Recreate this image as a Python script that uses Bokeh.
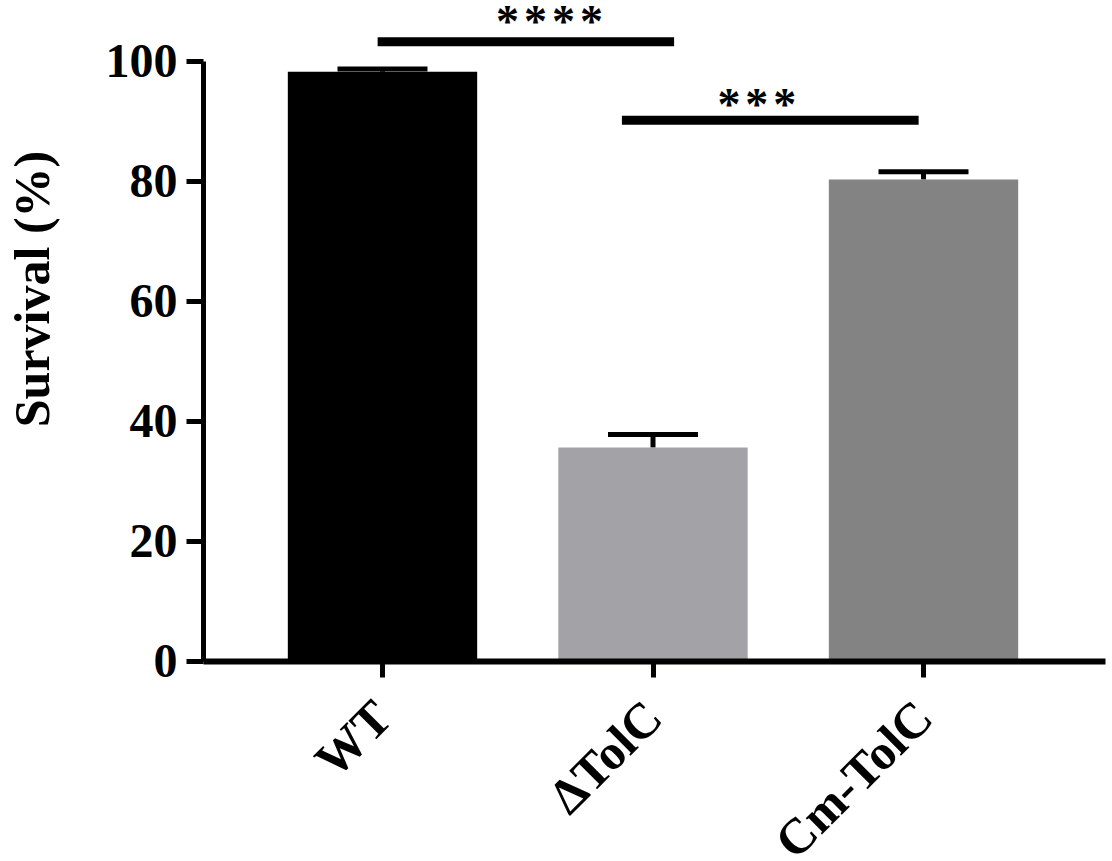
import math
from bokeh.plotting import figure
from bokeh.models import (Range1d, ColumnDataSource, Whisker, TeeHead, FixedTicker, Label)
from bokeh.core.properties import value
from bokeh.embed import file_html
from bokeh.resources import INLINE

# ---- data ----
categories = ["WT", "ΔTolC", "Cm-TolC"]
survival = [98.3, 35.6, 80.3]
sem = [0.45, 2.2, 1.3]
bar_colors = ["#000000", "#a3a2a7", "#838383"]
y_ticks = [0, 20, 40, 60, 80, 100]
y_title = "Survival (%)"

comp_left = ["WT", "ΔTolC"]
comp_right = ["ΔTolC", "Cm-TolC"]
comp_heights = [103.3, 90.2]
comp_stars = [4, 3]

# ---- style constants (layout in axis units) ----
X_START, X_END = -1.4122, 2.6987
Y_START, Y_END = -33.44, 110.17
YAXIS_AT = -0.6617
XAXIS_END = 2.6728
comp_off_left = [-0.018, -0.115]
comp_off_right = [0.078, -0.018]
comp_star_off = [0.117, -0.116]
star_base = [106.7, 92.9]
star_pitch = 0.1035
ytitle_x, ytitle_y = -1.2957, 62.05

FONT = "Liberation Serif"

xpos = list(range(len(categories)))

p = figure(
    x_range=Range1d(X_START, X_END),
    y_range=Range1d(Y_START, Y_END),
    width=1112, height=861,
    output_backend="svg", toolbar_location=None,
    min_border_left=0, min_border_right=0, min_border_top=0, min_border_bottom=0,
)
p.outline_line_color = None
p.xgrid.visible = False
p.ygrid.visible = False

src = ColumnDataSource(dict(
    x=xpos, val=survival, up=[v + e for v, e in zip(survival, sem)], color=bar_colors,
))
p.vbar(x="x", top="val", bottom=0, width=0.7, fill_color="color", line_color=None, source=src)

wh = Whisker(base="x", lower="val", upper="up", source=src, dimension="height",
             line_color="black", line_width=5,
             upper_head=TeeHead(size=90, line_width=5, line_color="black"),
             lower_head=None)
p.add_layout(wh)

# significance bars and stars
idx = {c: i for i, c in enumerate(categories)}
x0 = [idx[a] + o for a, o in zip(comp_left, comp_off_left)]
x1 = [idx[b] + o for b, o in zip(comp_right, comp_off_right)]
p.segment(x0=x0, y0=comp_heights, x1=x1, y1=comp_heights, line_color="black", line_width=9)

sx, sy = [], []
for a, b, n, o, yb in zip(comp_left, comp_right, comp_stars, comp_star_off, star_base):
    c = (idx[a] + idx[b]) / 2 + o
    for k in range(n):
        sx.append(c + (k - (n - 1) / 2) * star_pitch)
        sy.append(yb)
p.text(x=sx, y=sy, text=["*"] * len(sx), text_font=value(FONT), text_font_style="bold",
       text_font_size="46px", text_align="center", text_baseline="alphabetic", text_color="black")

# y axis
ya = p.yaxis[0]
ya.fixed_location = YAXIS_AT
ya.ticker = FixedTicker(ticks=y_ticks)
ya.bounds = (0, 100)
ya.major_label_text_font = FONT
ya.major_label_text_font_style = "bold"
ya.major_label_text_font_size = "48px"
ya.major_label_text_color = "black"
ya.major_label_standoff = 9
ya.axis_line_width = 5
ya.axis_line_color = "black"
ya.major_tick_line_width = 5
ya.major_tick_line_color = "black"
ya.major_tick_out = 17
ya.major_tick_in = 0
ya.minor_tick_line_color = None

p.add_layout(Label(x=ytitle_x, y=ytitle_y, text=y_title, angle=math.pi / 2,
                   text_font=FONT, text_font_style="bold", text_font_size="50px",
                   text_color="black", text_align="center", text_baseline="middle"))

# x axis
xa = p.xaxis[0]
xa.fixed_location = 0
xa.ticker = FixedTicker(ticks=xpos)
xa.major_label_overrides = {i: c for i, c in zip(xpos, categories)}
xa.bounds = (YAXIS_AT, XAXIS_END)
xa.major_label_orientation = math.pi / 4
xa.major_label_text_font = FONT
xa.major_label_text_font_style = "bold"
xa.major_label_text_font_size = "50px"
xa.major_label_text_color = "black"
xa.major_label_standoff = 32
xa.axis_line_width = 6
xa.axis_line_color = "black"
xa.major_tick_line_width = 5
xa.major_tick_line_color = "black"
xa.major_tick_out = 16
xa.major_tick_in = 0
xa.minor_tick_line_color = None

open("out.html", "w").write(file_html(p, INLINE))
